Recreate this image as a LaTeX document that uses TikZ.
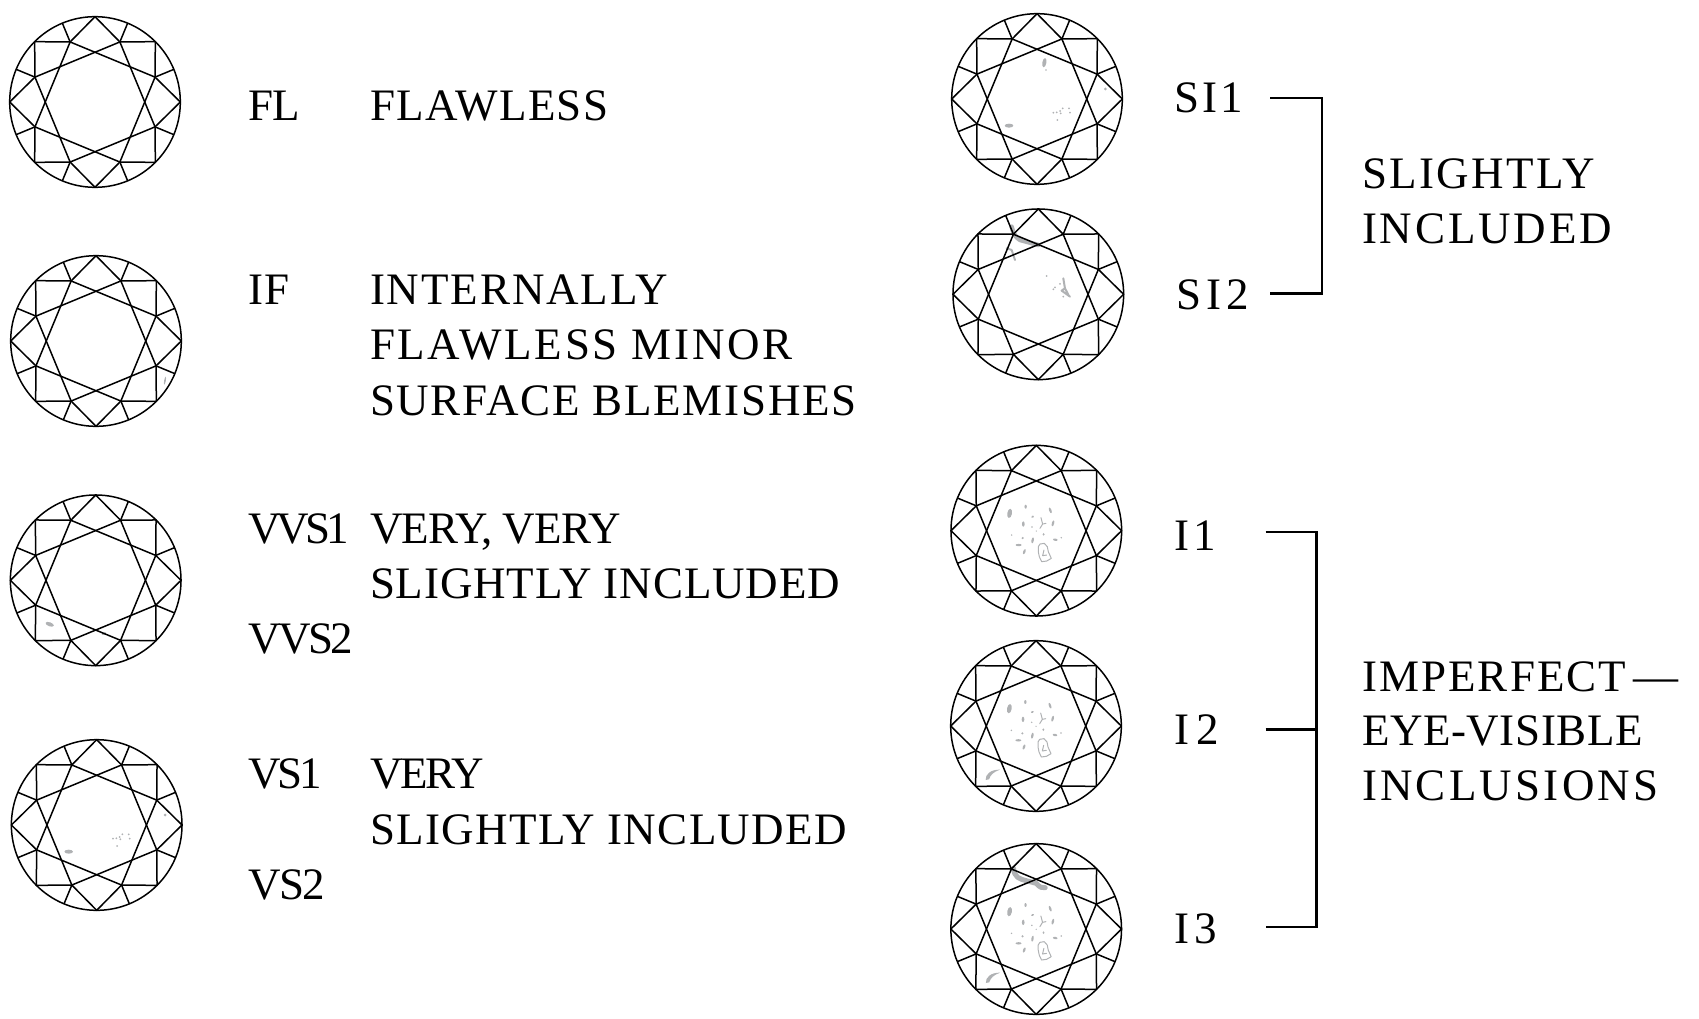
\documentclass[tikz,border=0pt]{standalone}
\usepackage{fontspec}
\setmainfont{Liberation Serif}
\newcommand{\ls}[2]{{\addfontfeature{LetterSpace=#1}#2}}
\definecolor{inc}{RGB}{176,178,180}
\tikzset{
  gemline/.style={line width=1.5pt,black,line join=round},
  lab/.style={anchor=base west,inner sep=0pt,outer sep=0pt,font=\fontsize{45}{45}\selectfont},
  bracket/.style={line width=2.4pt,black,line join=miter},
  thinblob/.style={draw=inc,line width=1pt,fill=none,line cap=round,line join=round},
  thickblob/.style={draw=inc,line width=4.5pt,fill=none,line cap=round,line join=round}
}
% facet drawing in units of one third of a pixel, centred on the stone
\newcommand{\gemfacets}{%
  \draw[gemline] (0,0) circle[radius=256];
  \draw[gemline] (22.5:195)--(112.5:195)--(202.5:195)--(292.5:195)--cycle;
  \draw[gemline] (67.5:195)--(157.5:195)--(247.5:195)--(337.5:195)--cycle;
  \foreach \a in {0,45,...,315}{\draw[gemline] (\a+22.5:195)--(\a+22.5:256);}
  \foreach \a in {0,90,180,270}{
    \draw[gemline] (\a-22.5:195)--(\a:256)--(\a+22.5:195);
    \draw[gemline] (\a+22.5:195)--(\a+45:256)--(\a+67.5:195);
  }
}
\newcommand{\pinpoints}{%
  \foreach \p in {(49,41),(59,40),(69,36),(77,28),(96,28),(99,41),(71,43),(61,63)}
    {\fill[inc] \p circle[radius=3];}
  \fill[inc] (205,-30) circle[radius=4.5];
  \fill[inc] (-84,80) ellipse[x radius=13,y radius=6];
}
\newcommand{\feathers}{%
  \fill[inc,rotate around={-10:(-80,-52)}] (-80,-52) ellipse[x radius=7,y radius=14];
  \foreach \x/\y/\rx/\ry/\r in {-32/-72/3.5/6/0,42/-61/3.5/9/20,-11/-42/4.5/3.5/30,-39/-20/4/8/0,-13/-11/2.5/2.5/0,50/-22/3.5/9/-15,0/1/2/2/0,22/11/3/4/0,-74/13/2.5/2.5/0,-41/22/3.5/3.5/0,-11/29/3.5/9/-10,-53/43/9/3.5/0,-36/63/3.5/8/-20,57/27/7/3.5/-10,75/21/2.5/2.5/0}
    {\fill[inc,rotate around={\r:(\x,\y)}] (\x,\y) ellipse[x radius=\rx,y radius=\ry];}
  \draw[thinblob] (14,-39)--(19,-20)--(29,-22) (19,-20)--(11,-7);
  \draw[thinblob] (6,48)--(11,40)--(24,38)--(33,48)--(36,63)--(45,83)--(31,91)--(16,93)--(9,78)--(6,63)--cycle;
  \draw[thinblob] (23,58)--(19,75)--(31,73);
}
\newcommand{\crack}{%
  \fill[inc] (-151,162) .. controls (-153,145) and (-135,130) .. (-108,131) .. controls (-128,138) and (-136,146) .. (-141,160) -- cycle;
}
\newcommand{\gem}[3]{%
  \begin{scope}[shift={(#1,#2)},x=0.3333pt,y=-0.3333pt]
    #3
    \gemfacets
  \end{scope}
}
\begin{document}
\begin{tikzpicture}[x=1pt,y=-1pt]
\useasboundingbox (0,0) rectangle (1699,1019);
% left column
\gem{95}{102}{}
\gem{96}{341}{\fill[inc,rotate around={-10:(207,119)}] (207,119) ellipse[x radius=2.5,y radius=12];}
\gem{95.7}{580.3}{
  \fill[inc,rotate around={-20:(-138,132)}] (-138,132) ellipse[x radius=13,y radius=6];
  \fill[inc] (-39,135) circle[radius=2.5];
  \fill[inc,rotate around={20:(25,160)}] (25,160) ellipse[x radius=7,y radius=3.5];
}
\gem{96.7}{825}{\pinpoints}
% right column
\gem{1037}{99}{\pinpoints
  \fill[inc,rotate around={-10:(22,-109)}] (22,-109) ellipse[x radius=6,y radius=14];
  \fill[inc] (27,-87) circle[radius=2.5];
}
\gem{1038.3}{294.3}{
  \draw[thickblob] (-80,-203) .. controls (-76,-185) and (-70,-172) .. (-55,-163) -- (0,-148);
  \draw[thinblob,line width=2pt] (-95,-138) -- (-80,-133) -- (-70,-103);
  \draw[thinblob,line width=2pt] (75,-48)--(80,-18)--(70,-11)--(95,7) (80,-18)--(92,5);
  \foreach \p in {(25,-55),(50,-21),(45,-15),(65,-31),(75,7)}{\fill[inc] \p circle[radius=3];}
}
\gem{1036.3}{530.7}{\feathers}
\gem{1036}{726}{\feathers\crack}
\gem{1036.2}{929}{\feathers\crack
  \draw[thickblob,line width=5pt] (-68,-182) .. controls (-66,-155) and (-50,-150) .. (-30,-145) -- (0,-137) .. controls (10,-125) and (18,-122) .. (27,-124);
}
% left labels
\node[lab] (fl) at (248,120.4) {\ls{-1.5}{FL}};
\node[lab] (if) at (248,304.6) {\ls{3}{IF}};
\node[lab] (vvsa) at (248,543) {\ls{-8.5}{VVS1}};
\node[lab] (vvsb) at (248,653.5) {\ls{-5.5}{VVS2}};
\node[lab] (vsa) at (248,788) {\ls{-6.5}{VS1}};
\node[lab] (vsb) at (248,899.5) {\ls{-3}{VS2}};
% descriptions
\node[lab] (flt) at (370,120.4) {\ls{3}{FLAWLESS}};
\node[lab] (ifa) at (370,304.6) {\ls{4.3}{INTERNALLY}};
\node[lab] (ifb) at (370,359.8) {\ls{6}{FLAWLESS MINOR}};
\node[lab] (ifc) at (370,415) {\ls{3.9}{SURFACE BLEMISHES}};
\node[lab] (vva) at (370,543) {\ls{-1.7}{VERY, VERY}};
\node[lab] (vvb) at (370,598) {\ls{2}{SLIGHTLY INCLUDED}};
\node[lab] (vsta) at (370,788.5) {\ls{-4.5}{VERY}};
\node[lab] (vstb) at (370,844) {\ls{3}{SLIGHTLY INCLUDED}};
% right labels
\node[lab] (sia) at (1174,112.7) {\ls{7.5}{SI1}};
\node[lab] (sib) at (1176,309) {\ls{11.5}{SI2}};
\node[lab] (ia) at (1174,550.7) {\ls{10}{I1}};
\node[lab] (ib) at (1174,744) {\ls{17}{I2}};
\node[lab] (ic) at (1174,943) {\ls{12}{I3}};
\node[lab] (sla) at (1362,188.3) {\ls{5.5}{SLIGHTLY}};
\node[lab] (slb) at (1362,243) {\ls{6.4}{INCLUDED}};
\node[lab] (ima) at (1362,691) {\ls{4.7}{IMPERFECT}\,—};
\node[lab] (imb) at (1362,745) {\ls{1.3}{EYE-VISIBLE}};
\node[lab] (imc) at (1362,800.5) {\ls{7.2}{INCLUSIONS}};
% brackets
\coordinate (sa) at (1270,98.3);
\coordinate (sb) at (1270,293.3);
\coordinate (ca) at (1322,98.3);
\coordinate (cb) at (1322,293.3);
\draw[bracket] (sa)--(ca)--(cb)--(sb);
\coordinate (ja) at (1265.5,532.2);
\coordinate (jb) at (1265.5,729.6);
\coordinate (jc) at (1265.5,926.8);
\coordinate (ka) at (1316.5,532.2);
\coordinate (kb) at (1316.5,729.6);
\coordinate (kc) at (1316.5,926.8);
\draw[bracket] (ja)--(ka)--(kc)--(jc);
\draw[bracket] (jb)--(kb);
\end{tikzpicture}
\end{document}
